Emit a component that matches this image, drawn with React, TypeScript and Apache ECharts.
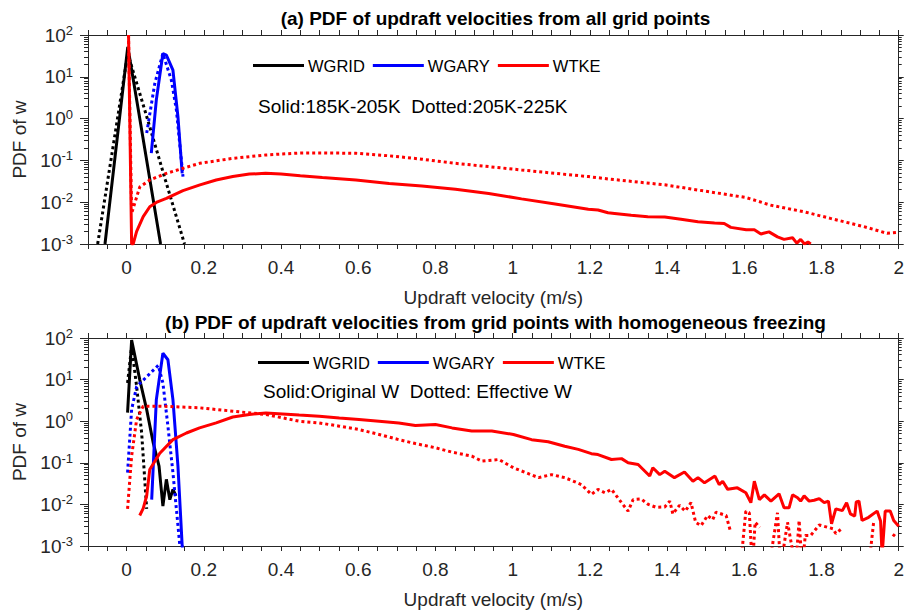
import React, { useEffect, useRef } from "react";
import * as echarts from "echarts";

// ---------- data (x = updraft velocity m/s, y = PDF of w) ----------
// Panel (a): Solid 185K-205K, Dotted 205K-225K
const aGridSolid = [[-0.056, 0.001], [-0.03, 0.12], [0.003, 52], [0.03, 1.7], [0.06, 0.036], [0.088, 0.001]];
const aGridDotted = [[-0.075, 0.001], [-0.04, 0.11], [0.003, 36], [0.05, 1.3], [0.1, 0.035], [0.15, 0.001]];
const aGarySolid = [[0.064, 0.15], [0.077, 2.8], [0.094, 36], [0.103, 33], [0.12, 14.5], [0.133, 1.1], [0.144, 0.049]];
const aGaryDotted = [[0.052, 0.45], [0.073, 6.9], [0.094, 36], [0.116, 8.3], [0.129, 1.6], [0.146, 0.041]];
const aTkeSolid = [
  [0.005, 100], [0.013, 0.001], [0.017, 0.001], [0.026, 0.002], [0.043, 0.0045], [0.06, 0.0078], [0.08, 0.0102],
  [0.103, 0.0123], [0.146, 0.019], [0.19, 0.026], [0.232, 0.034], [0.275, 0.041], [0.318, 0.047], [0.36, 0.049],
  [0.4, 0.047], [0.45, 0.043], [0.507, 0.039], [0.594, 0.034], [0.68, 0.028], [0.765, 0.0245], [0.852, 0.0204],
  [0.938, 0.0162], [1.023, 0.012], [1.11, 0.0091], [1.196, 0.0068], [1.221, 0.0065], [1.247, 0.0056],
  [1.264, 0.0054], [1.307, 0.0049], [1.35, 0.0045], [1.394, 0.0044], [1.436, 0.0039], [1.48, 0.0034],
  [1.523, 0.0032], [1.548, 0.0031], [1.565, 0.0025], [1.605, 0.0022], [1.626, 0.0022], [1.643, 0.00174],
  [1.664, 0.00195], [1.686, 0.00148], [1.703, 0.00129], [1.725, 0.00141], [1.736, 0.00105], [1.746, 0.00129],
  [1.756, 0.001], [1.765, 0.00112], [1.772, 0.001],
];
const aTkeDotted = [
  [0.005, 100], [0.013, 0.0054], [0.034, 0.023], [0.06, 0.034], [0.103, 0.049], [0.189, 0.085], [0.275, 0.112],
  [0.361, 0.135], [0.447, 0.15], [0.507, 0.151], [0.594, 0.148], [0.68, 0.129], [0.765, 0.107], [0.852, 0.085],
  [0.938, 0.071], [1.023, 0.059], [1.11, 0.049], [1.196, 0.041], [1.247, 0.036], [1.394, 0.026], [1.505, 0.018],
  [1.605, 0.0129], [1.668, 0.0085], [1.755, 0.0059], [1.823, 0.0041], [1.91, 0.0026], [1.97, 0.0018], [1.996, 0.0019],
];

// Panel (b): Solid original W, Dotted effective W
const bGridSolid = [[0.0025, 1.6], [0.013, 89], [0.034, 10], [0.052, 1.9], [0.069, 0.3], [0.084, 0.083], [0.094, 0.0091], [0.103, 0.04], [0.112, 0.013], [0.12, 0.023], [0.128, 0.016]];
const bGridDotted = [[0.0025, 8.3], [0.013, 62], [0.026, 6.8], [0.039, 0.52], [0.052, 0.0078]];
const bGarySolid = [[0.065, 0.013], [0.077, 3.3], [0.094, 43], [0.107, 30], [0.12, 3.3], [0.133, 0.083], [0.144, 0.001], [0.147, 0.0005]];
const bGaryDotted = [[0.0025, 0.058], [0.013, 1.9], [0.026, 6.8], [0.052, 11.7], [0.082, 22], [0.094, 8.3], [0.107, 0.76], [0.12, 0.058], [0.138, 0.001]];
const bTkeSolid = [
  [0.034, 0.0054], [0.043, 0.008], [0.052, 0.016], [0.06, 0.069], [0.086, 0.17], [0.12, 0.36], [0.155, 0.52],
  [0.189, 0.69], [0.232, 0.91], [0.275, 1.26], [0.318, 1.45], [0.361, 1.58], [0.447, 1.4], [0.499, 1.32],
  [0.551, 1.2], [0.602, 1.1], [0.654, 1.0], [0.705, 0.91], [0.748, 0.79], [0.8, 0.83], [0.843, 0.69],
  [0.894, 0.58], [0.946, 0.58], [1.002, 0.48], [1.049, 0.36], [1.092, 0.32], [1.135, 0.25], [1.17, 0.21],
  [1.204, 0.166], [1.221, 0.158], [1.256, 0.12], [1.282, 0.126], [1.299, 0.1], [1.325, 0.091], [1.355, 0.048],
  [1.363, 0.076], [1.381, 0.052], [1.394, 0.063], [1.419, 0.044], [1.445, 0.06], [1.467, 0.036], [1.48, 0.044],
  [1.497, 0.033], [1.524, 0.048], [1.535, 0.03], [1.544, 0.036], [1.557, 0.023], [1.582, 0.025], [1.604, 0.019],
  [1.617, 0.011], [1.626, 0.036], [1.639, 0.013], [1.652, 0.017], [1.669, 0.012], [1.69, 0.018], [1.703, 0.0083],
  [1.716, 0.0083], [1.725, 0.017], [1.738, 0.0145], [1.746, 0.012], [1.755, 0.016], [1.768, 0.012], [1.781, 0.0126],
  [1.794, 0.0138], [1.807, 0.011], [1.818, 0.012], [1.826, 0.0034], [1.837, 0.0078], [1.854, 0.0071], [1.865, 0.011],
  [1.875, 0.0059], [1.886, 0.0052], [1.89, 0.0115], [1.897, 0.012], [1.905, 0.0041], [1.922, 0.0049], [1.944, 0.0069],
  [1.953, 0.004], [1.957, 0.0006], [1.965, 0.0069], [1.978, 0.0069], [1.987, 0.0041], [2.0, 0.003],
];
const bTkeDotted = [
  [0.0025, 0.0078], [0.013, 0.145], [0.026, 1.1], [0.043, 2.3], [0.086, 2.3], [0.189, 2.1], [0.275, 1.74],
  [0.361, 1.45], [0.447, 1.0], [0.499, 0.91], [0.551, 0.76], [0.602, 0.63], [0.654, 0.48], [0.705, 0.36],
  [0.748, 0.29], [0.8, 0.23], [0.843, 0.18], [0.894, 0.145], [0.92, 0.11], [0.964, 0.12], [1.002, 0.076],
  [1.067, 0.044], [1.101, 0.052], [1.135, 0.044], [1.178, 0.03], [1.204, 0.0174], [1.221, 0.023], [1.239, 0.019],
  [1.256, 0.023], [1.282, 0.011], [1.299, 0.0069], [1.312, 0.013], [1.333, 0.0135], [1.351, 0.01], [1.372, 0.0085],
  [1.394, 0.0087], [1.407, 0.012], [1.415, 0.0059], [1.432, 0.0095], [1.447, 0.0069], [1.462, 0.011], [1.474, 0.0037],
  [1.488, 0.0031], [1.505, 0.0054], [1.518, 0.0043], [1.527, 0.0065], [1.553, 0.0054], [1.565, 0.0021], [1.575, null],
  [1.59, 0.0003], [1.604, 0.0069], [1.613, 0.0063], [1.621, 0.0003], [1.628, 0.0037], [1.64, 0.0028], [1.652, null],
  [1.664, 0.0003], [1.686, 0.0063], [1.694, 0.0003], [1.712, 0.0037], [1.733, 0.0003], [1.742, 0.0041], [1.75, 0.0003],
  [1.758, 0.0018], [1.772, 0.0018], [1.789, 0.0028], [1.794, 0.0032], [1.83, 0.0026], [1.837, 0.002], [1.85, 0.0025],
  [1.86, null], [1.922, 0.0003], [1.935, 0.0037], [1.945, null], [1.985, 0.0017], [1.993, 0.0021],
];

const legendNames = ["WGRID", "WGARY", "WTKE"];
const titles = [
  "(a) PDF of updraft velocities from all grid points",
  "(b) PDF of updraft velocities from grid points with homogeneous freezing",
];
const notes = ["Solid:185K-205K  Dotted:205K-225K", "Solid:Original W  Dotted: Effective W"];
const xMin = -0.1;
const xMax = 2;
const yMin = 0.001;
const yMax = 100;

const FONT = "'Liberation Sans', Arial, Helvetica, sans-serif";
const AX = "#262626";
const colors = { grid: "#000000", gary: "#0000ff", tke: "#ff0000" };

// minor tick positions (log10 of 2..9 x 10^e), placed on a helper value axis in decade units
const minorLogs: number[] = [];
for (let e = -3; e < 2; e++) for (let k = 2; k <= 9; k++) minorLogs.push(Math.log10(k) + e);

const gridTop = [35, 338];

function buildOption() {
  const grids = gridTop.map((t) => ({ left: 88, top: t, width: 815, height: 209 }));
  const xAxes: any[] = [];
  const yAxes: any[] = [];
  [0, 1].forEach((g) => {
    xAxes.push({
      type: "value", gridIndex: g, min: xMin, max: xMax, interval: 0.05, position: "bottom",
      axisLine: { show: true, onZero: false, lineStyle: { color: AX, width: 1 } },
      axisTick: { show: true, inside: false, length: 5, lineStyle: { color: AX } },
      splitLine: { show: false },
      axisLabel: {
        margin: 14, fontSize: 19, color: AX, fontFamily: FONT,
        formatter: (v: number) => (Math.abs(v / 0.2 - Math.round(v / 0.2)) < 1e-6 ? String(Math.round(v * 10) / 10) : ""),
      },
      name: "Updraft velocity (m/s)", nameLocation: "middle", nameGap: 44,
      nameTextStyle: { fontSize: 19, color: AX, fontFamily: FONT },
    });
    xAxes.push({
      type: "value", gridIndex: g, min: xMin, max: xMax, interval: 0.05, position: "top",
      axisLine: { show: true, onZero: false, lineStyle: { color: AX, width: 1 } },
      axisTick: { show: true, inside: false, length: 5, lineStyle: { color: AX } },
      splitLine: { show: false }, axisLabel: { show: false },
    });
    const yBase = { type: "log", logBase: 10, gridIndex: g, min: yMin, max: yMax, splitLine: { show: false } };
    yAxes.push({
      ...yBase, position: "left",
      axisLine: { show: true, onZero: false, lineStyle: { color: AX, width: 1 } },
      axisTick: { show: true, inside: false, length: 8, lineStyle: { color: AX } },
      axisLabel: {
        margin: 15, color: AX, fontFamily: FONT,
        formatter: (v: number) => `{b|10}{s|${Math.round(Math.log10(v))}}`,
        rich: {
          b: { fontSize: 19, color: AX, fontFamily: FONT, lineHeight: 22 },
          s: { fontSize: 13, color: AX, fontFamily: FONT, verticalAlign: "top", lineHeight: 14 },
        },
      },
      name: "PDF of w", nameLocation: "middle", nameGap: 51, nameRotate: 90,
      nameTextStyle: { fontSize: 19, color: AX, fontFamily: FONT },
    });
    yAxes.push({
      ...yBase, position: "right",
      axisLine: { show: true, onZero: false, lineStyle: { color: AX, width: 1 } }, axisLabel: { show: false },
      axisTick: { show: true, inside: false, length: 5, lineStyle: { color: AX } },
    });
    const minorBase = {
      type: "value", gridIndex: g, min: -3, max: 2, interval: 1, splitLine: { show: false },
      axisLine: { show: false, onZero: false }, axisLabel: { show: false },
    };
    yAxes.push({
      ...minorBase, position: "left",
      axisTick: { show: true, inside: false, length: 4, customValues: minorLogs, lineStyle: { color: AX } },
    });
    yAxes.push({
      ...minorBase, position: "right",
      axisTick: { show: true, inside: false, length: 3, customValues: minorLogs, lineStyle: { color: AX } },
    });
  });

  const mk = (name: string, data: any[], color: string, dotted: boolean, g: number) => ({
    type: "line", name, data, xAxisIndex: g * 2, yAxisIndex: g * 4, showSymbol: false, symbol: "none",
    clip: true, silent: true, connectNulls: false,
    lineStyle: { color, width: 3, type: dotted ? [3, 3] : "solid" },
    itemStyle: { color },
  });

  const series = [
    mk("WGRID", aGridSolid, colors.grid, false, 0),
    mk("WGRID dotted", aGridDotted, colors.grid, true, 0),
    mk("WGARY", aGarySolid, colors.gary, false, 0),
    mk("WGARY dotted", aGaryDotted, colors.gary, true, 0),
    mk("WTKE", aTkeSolid, colors.tke, false, 0),
    mk("WTKE dotted", aTkeDotted, colors.tke, true, 0),
    mk("WGRID", bGridSolid, colors.grid, false, 1),
    mk("WGRID dotted", bGridDotted, colors.grid, true, 1),
    mk("WGARY", bGarySolid, colors.gary, false, 1),
    mk("WGARY dotted", bGaryDotted, colors.gary, true, 1),
    mk("WTKE", bTkeSolid, colors.tke, false, 1),
    mk("WTKE dotted", bTkeDotted, colors.tke, true, 1),
  ];

  const legendTop = [57, 354];
  const legendLeft = [253, 258];
  const legends = [0, 1].map((g) => ({
    data: legendNames.map((n) => ({ name: n, icon: "rect" })), left: legendLeft[g], top: legendTop[g],
    orient: "horizontal", padding: 0,
    itemWidth: 51, itemHeight: 3, itemGap: 8, selectedMode: false,
    textStyle: { fontSize: 16.5, color: "#000", fontFamily: FONT, padding: [0, 0, 0, -1] },
  }));

  const titleTops = [9, 313];
  const title = [0, 1].map((g) => ({
    text: titles[g], left: 495.5, top: titleTops[g], textAlign: "center", padding: 0,
    textStyle: { fontSize: 19, fontWeight: "bold", color: "#000", fontFamily: FONT },
  }));

  const noteX = [258, 263];
  const noteY = [108, 393];
  const graphic = [0, 1].map((g) => ({
    type: "text", left: noteX[g], top: noteY[g] - 11,
    style: { text: notes[g], fontSize: 19, fill: "#000", fontFamily: FONT },
  }));

  return {
    animation: false,
    backgroundColor: "#ffffff",
    textStyle: { fontFamily: FONT },
    title, grid: grids, xAxis: xAxes, yAxis: yAxes, legend: legends, series, graphic,
  };
}

export default function App() {
  const ref = useRef<HTMLDivElement>(null);
  useEffect(() => {
    const chart = echarts.init(ref.current!, null, { renderer: "svg" });
    chart.setOption(buildOption() as any);
    return () => chart.dispose();
  }, []);
  return <div ref={ref} style={{ position: "absolute", left: 0, top: 0, width: 907, height: 610 }} />;
}
